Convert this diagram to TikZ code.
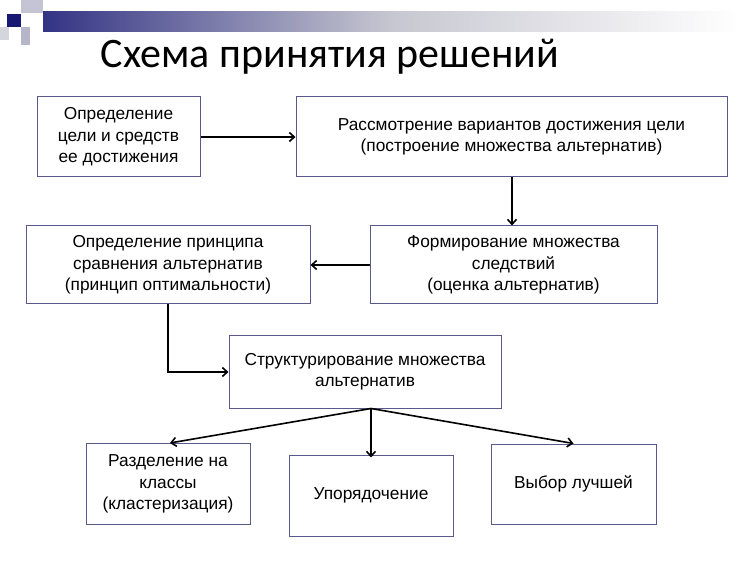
\documentclass[tikz,border=0pt]{standalone}
\usepackage{fontspec}
\setmainfont{Liberation Sans}
\newfontfamily\titlefont{Carlito}
\usetikzlibrary{arrows.meta}
\begin{document}
\begin{tikzpicture}[x=1pt,y=-1pt,
  bx/.style={draw=black!35!blue!30!gray,line width=1pt,fill=white,align=center,font=\fontsize{17.3}{21.5}\selectfont,inner sep=0pt},
  ar/.style={line width=1.6pt,-{Straight Barb[length=5pt,width=9pt]}}]
\useasboundingbox (0,0) rectangle (750,561);
\fill[white] (0,0) rectangle (750,561);
\shade[left color=blue!40!black!80, right color=white, middle color=blue!10!gray!40] (43,12) rectangle (740,32);
\fill[blue!40!black!90] (7,14) rectangle (21,27);
\fill[blue!15!gray!40] (21,0) rectangle (43,13);
\fill[blue!15!gray!50] (21,27) rectangle (30,45);
\fill[blue!10!gray!30] (0,27) rectangle (9,40);
\node[font=\titlefont\fontsize{42}{46}\selectfont] (t) at (330,57) {Схема принятия решений};
\node[bx,minimum width=163,minimum height=80] (b1) at (118.5,137) {Определение\\цели и средств\\ее достижения};
\node[bx,minimum width=431,minimum height=80] (b2) at (511.5,137) {Рассмотрение вариантов достижения цели\\(построение множества альтернатив)};
\node[bx,minimum width=284,minimum height=78] (b3) at (168,265) {Определение принципа\\сравнения альтернатив\\(принцип оптимальности)};
\node[bx,minimum width=287,minimum height=78] (b4) at (513.5,265) {Формирование множества\\следствий\\(оценка альтернатив)};
\node[bx,minimum width=272,minimum height=72] (b5) at (365,372) {Структурирование множества\\альтернатив};
\node[bx,minimum width=164,minimum height=81] (b6) at (168,484) {Разделение на\\классы\\(кластеризация)};
\node[bx,minimum width=164,minimum height=81] (b7) at (371,495.5) {Упорядочение};
\node[bx,minimum width=165,minimum height=80] (b8) at (573.5,484) {Выбор лучшей};
\coordinate (s) at ([xshift=6pt]b5.south);
\draw[ar] (b1.east) -- (b2.west);
\draw[ar] (b2.south -| 512,0) -- (b4.north -| 512,0);
\draw[ar] (b4.west) -- (b3.east);
\draw[ar] (b3.south) |- (b5.west);
\draw[ar] (s) -- ([xshift=2pt]b6.north);
\draw[ar] (s) -- ([yshift=-3pt]b7.north);
\draw[ar] (s) -- (b8.north);
\end{tikzpicture}
\end{document}
